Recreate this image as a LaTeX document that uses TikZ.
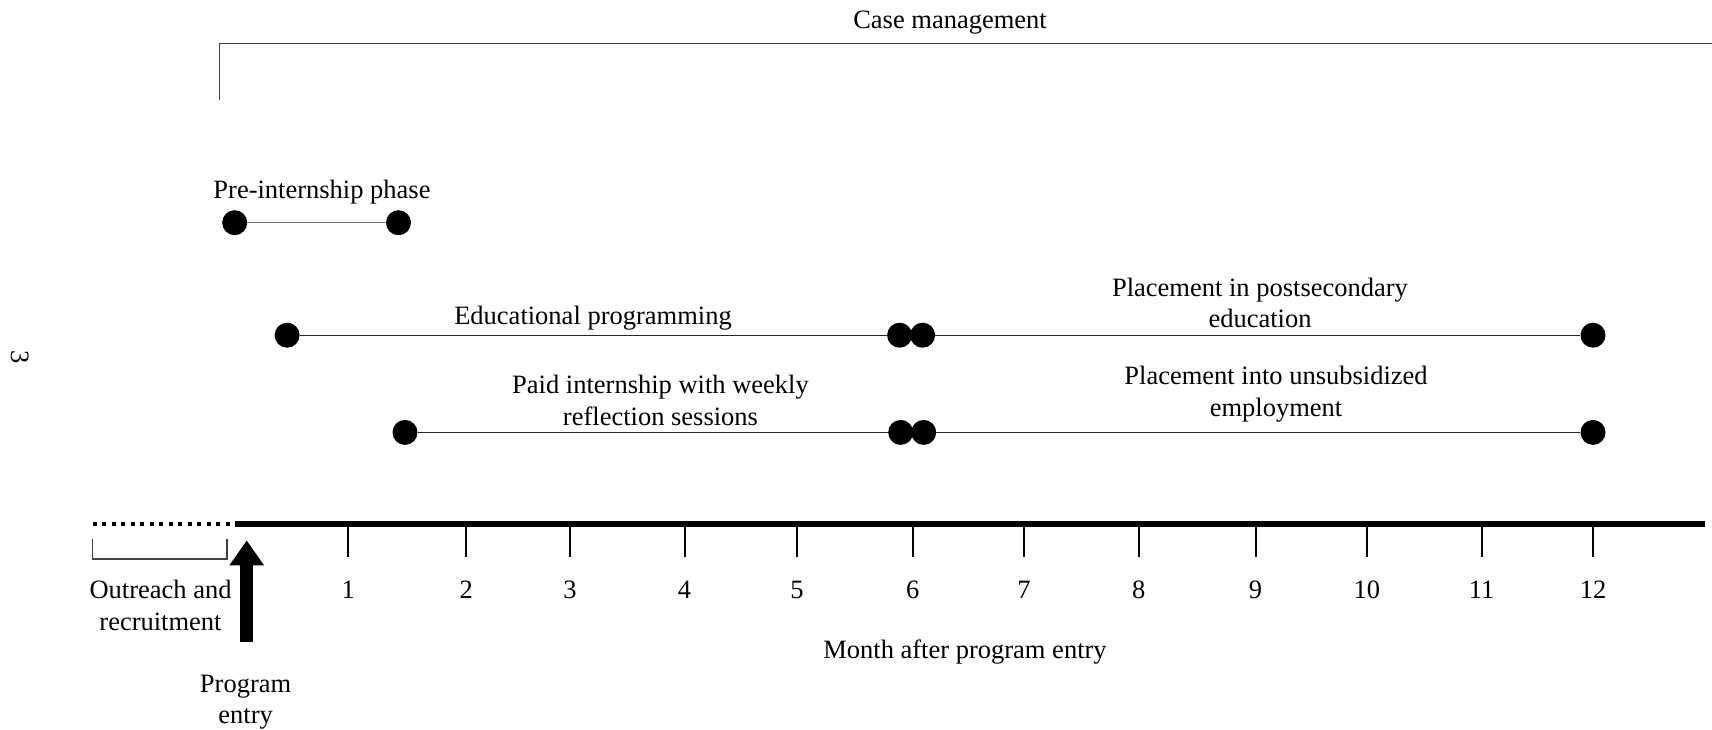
\documentclass[tikz,border=0pt]{standalone}
\usepackage{fontspec}
\setmainfont{Liberation Serif}
\usetikzlibrary{arrows.meta}
\begin{document}
\begin{tikzpicture}[x=1pt,y=-1pt,
  txt/.style={font=\fontsize{26.5}{31.5}\selectfont, align=center, inner sep=0pt, yshift=-2.5pt},
  dot/.style={circle, fill=black, minimum size=25pt, inner sep=0pt},
  conn/.style={line width=1.3pt, draw=black!85},
  thin/.style={line width=1.3pt, draw=black!75},
  tick/.style={line width=1.8pt}]
\useasboundingbox (0,0) rectangle (1712,730);
% page number
\node[txt, rotate=-90] (pg) at (19.7,354.8) {3};
% case management
\node[txt] (cm) at (950,20.5) {Case management};
\coordinate (cmA) at (219.5,100.4);
\coordinate (cmB) at (219.5,43.7);
\coordinate (cmC) at (1712,43.7);
\draw[thin] (cmA) -- (cmB) -- (cmC);
% pre-internship
\node[txt] (pre) at (322,190) {Pre-internship phase};
\node[dot] (p1) at (234.7,222.7) {};
\node[dot] (p2) at (398.5,222.7) {};
\draw[conn, draw=black!55] (p1) -- (p2);
% educational / postsecondary row
\node[dot] (e1) at (287.1,335.2) {};
\node[dot] (e2) at (899.6,335.2) {};
\node[dot] (e3) at (922.6,335.2) {};
\node[dot] (e4) at (1593,335.2) {};
\draw[conn] (e1) -- (e2);
\draw[conn] (e3) -- (e4);
\node[txt] (edu) at (593,315.5) {Educational programming};
\node[txt] (post) at (1260,300.5) {Placement in postsecondary\\education};
% internship / employment row
\node[dot] (i1) at (405,432.4) {};
\node[dot] (i2) at (900.7,432.4) {};
\node[dot] (i3) at (923.7,432.4) {};
\node[dot] (i4) at (1593,432.4) {};
\draw[conn] (i1) -- (i2);
\draw[conn] (i3) -- (i4);
\node[txt] (paid) at (660.5,398) {Paid internship with weekly\\reflection sessions};
\node[txt] (emp) at (1276,391.5) {Placement into unsubsidized\\employment};
% axis
\coordinate (ax0) at (92.8,524);
\coordinate (ax1) at (235,524);
\coordinate (ax2) at (1705,524);
\draw[line width=3.5pt, dash pattern=on 4pt off 5.5pt] (ax0) -- (ax1);
\draw[line width=5.5pt] (ax1) -- (ax2);
\foreach \m/\x in {1/348.3,2/466.2,3/569.9,4/684.6,5/797.0,6/912.7,7/1024.1,8/1138.7,9/1255.6,10/1366.9,11/1481.6,12/1593.0}{
  \coordinate (t\m) at (\x,524);
  \coordinate (b\m) at (\x,557);
  \draw[tick] (t\m) -- (b\m);
  \node[txt] (l\m) at (\x,587) {\m};
}
% outreach bracket
\coordinate (oA) at (92.8,539);
\coordinate (oB) at (92.8,559);
\coordinate (oC) at (227,559);
\coordinate (oD) at (227,539);
\draw[thin] (oA) -- (oB) -- (oC) -- (oD);
\node[txt] (out) at (160.5,603) {Outreach and\\recruitment};
% program entry arrow
\node[txt] (pe) at (245.6,699.5) {Program\\entry};
\coordinate (arB) at (246.7,642);
\coordinate (arT) at (246.7,540.4);
\draw[line width=13pt, -{Triangle[width=33pt,length=25pt]}] (arB) -- (arT);
\node[txt] (month) at (965,649.6) {Month after program entry};
\end{tikzpicture}
\end{document}
